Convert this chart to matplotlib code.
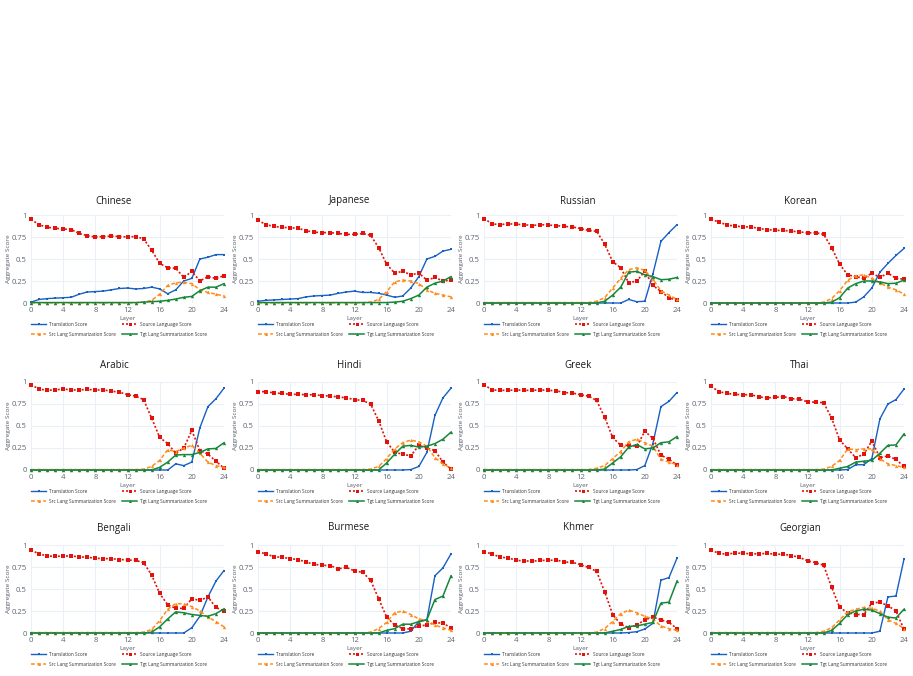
import matplotlib
matplotlib.use('Agg')
import matplotlib.pyplot as plt

# Data: aggregate scores per layer (0..24) for each language
layers = list(range(25))
languages = ['Chinese', 'Japanese', 'Russian', 'Korean',
             'Arabic', 'Hindi', 'Greek', 'Thai',
             'Bengali', 'Burmese', 'Khmer', 'Georgian']
series_names = ['Translation Score', 'Source Language Score',
                'Src Lang Summarization Score', 'Tgt Lang Summarization Score']

translation = {
    'Chinese':  [0.01, 0.04, 0.05, 0.055, 0.06, 0.065, 0.10, 0.125, 0.13, 0.135, 0.15, 0.165, 0.17, 0.16, 0.165, 0.18, 0.16, 0.105, 0.15, 0.25, 0.28, 0.50, 0.52, 0.55, 0.55],
    'Japanese': [0.02, 0.03, 0.035, 0.04, 0.045, 0.05, 0.07, 0.08, 0.085, 0.09, 0.11, 0.125, 0.135, 0.12, 0.12, 0.11, 0.09, 0.065, 0.08, 0.17, 0.30, 0.50, 0.53, 0.59, 0.61],
    'Russian':  [0, 0, 0, 0, 0, 0, 0, 0, 0, 0, 0, 0, 0, 0, 0, 0, 0, 0, 0.04, 0.015, 0.02, 0.33, 0.70, 0.80, 0.89],
    'Korean':   [0, 0, 0, 0, 0, 0, 0, 0, 0, 0, 0, 0, 0, 0, 0, 0, 0, 0, 0.01, 0.07, 0.17, 0.35, 0.45, 0.54, 0.62],
    'Arabic':   [0, 0, 0, 0, 0, 0, 0, 0, 0, 0, 0, 0, 0, 0, 0, 0, 0, 0, 0.07, 0.05, 0.09, 0.48, 0.72, 0.81, 0.93],
    'Hindi':    [0, 0, 0, 0, 0, 0, 0, 0, 0, 0, 0, 0, 0, 0, 0, 0, 0, 0, 0, 0.005, 0.04, 0.20, 0.62, 0.82, 0.93],
    'Greek':    [0, 0, 0, 0, 0, 0, 0, 0, 0, 0, 0, 0, 0, 0, 0, 0, 0, 0, 0, 0.005, 0.05, 0.30, 0.72, 0.78, 0.88],
    'Thai':     [0, 0, 0, 0, 0, 0, 0, 0, 0, 0, 0, 0, 0, 0, 0, 0, 0, 0.005, 0.06, 0.06, 0.13, 0.58, 0.75, 0.80, 0.92],
    'Bengali':  [0, 0, 0, 0, 0, 0, 0, 0, 0, 0, 0, 0, 0, 0, 0, 0, 0, 0, 0, 0, 0.06, 0.19, 0.41, 0.59, 0.71],
    'Burmese':  [0, 0, 0, 0, 0, 0, 0, 0, 0, 0, 0, 0, 0, 0, 0, 0, 0, 0, 0, 0.02, 0.13, 0.15, 0.65, 0.74, 0.90],
    'Khmer':    [0, 0, 0, 0, 0, 0, 0, 0, 0, 0, 0, 0, 0, 0, 0, 0, 0, 0, 0.005, 0.015, 0.045, 0.11, 0.60, 0.63, 0.85],
    'Georgian': [0, 0, 0, 0, 0, 0, 0, 0, 0, 0, 0, 0, 0, 0, 0, 0, 0, 0, 0, 0, 0, 0.02, 0.41, 0.42, 0.84],
}
source = {
    'Chinese':  [0.95, 0.89, 0.86, 0.85, 0.84, 0.835, 0.79, 0.765, 0.75, 0.755, 0.76, 0.755, 0.75, 0.755, 0.73, 0.60, 0.45, 0.40, 0.395, 0.29, 0.36, 0.25, 0.30, 0.28, 0.31],
    'Japanese': [0.94, 0.89, 0.87, 0.86, 0.855, 0.85, 0.82, 0.805, 0.80, 0.80, 0.79, 0.78, 0.78, 0.79, 0.77, 0.63, 0.44, 0.34, 0.36, 0.32, 0.34, 0.26, 0.29, 0.25, 0.26],
    'Russian':  [0.96, 0.90, 0.89, 0.90, 0.895, 0.89, 0.88, 0.89, 0.885, 0.88, 0.87, 0.865, 0.845, 0.825, 0.815, 0.67, 0.47, 0.40, 0.23, 0.25, 0.36, 0.20, 0.13, 0.06, 0.03],
    'Korean':   [0.95, 0.92, 0.885, 0.875, 0.865, 0.865, 0.845, 0.835, 0.825, 0.825, 0.815, 0.81, 0.795, 0.80, 0.78, 0.63, 0.44, 0.32, 0.30, 0.28, 0.34, 0.29, 0.34, 0.28, 0.27],
    'Arabic':   [0.97, 0.92, 0.905, 0.91, 0.92, 0.91, 0.91, 0.915, 0.91, 0.91, 0.895, 0.885, 0.855, 0.84, 0.80, 0.59, 0.37, 0.30, 0.19, 0.25, 0.45, 0.22, 0.18, 0.10, 0.02],
    'Hindi':    [0.89, 0.89, 0.875, 0.87, 0.86, 0.86, 0.855, 0.855, 0.845, 0.84, 0.83, 0.82, 0.80, 0.79, 0.75, 0.56, 0.32, 0.20, 0.18, 0.16, 0.28, 0.25, 0.22, 0.09, 0.01],
    'Greek':    [0.97, 0.91, 0.905, 0.905, 0.91, 0.905, 0.905, 0.91, 0.905, 0.90, 0.88, 0.875, 0.855, 0.84, 0.79, 0.60, 0.37, 0.28, 0.28, 0.27, 0.44, 0.36, 0.17, 0.12, 0.06],
    'Thai':     [0.95, 0.89, 0.87, 0.86, 0.855, 0.855, 0.83, 0.82, 0.825, 0.835, 0.81, 0.805, 0.775, 0.77, 0.765, 0.59, 0.34, 0.24, 0.14, 0.18, 0.33, 0.14, 0.16, 0.12, 0.04],
    'Bengali':  [0.94, 0.90, 0.875, 0.87, 0.875, 0.875, 0.865, 0.86, 0.85, 0.845, 0.845, 0.835, 0.83, 0.825, 0.80, 0.66, 0.45, 0.32, 0.28, 0.28, 0.39, 0.37, 0.41, 0.29, 0.25],
    'Burmese':  [0.92, 0.90, 0.865, 0.86, 0.845, 0.835, 0.805, 0.78, 0.77, 0.765, 0.73, 0.745, 0.705, 0.69, 0.60, 0.39, 0.18, 0.09, 0.05, 0.045, 0.08, 0.09, 0.12, 0.11, 0.06],
    'Khmer':    [0.92, 0.90, 0.86, 0.855, 0.825, 0.82, 0.815, 0.825, 0.825, 0.83, 0.805, 0.805, 0.775, 0.745, 0.70, 0.47, 0.21, 0.10, 0.06, 0.09, 0.15, 0.18, 0.15, 0.12, 0.05],
    'Georgian': [0.94, 0.905, 0.895, 0.91, 0.905, 0.90, 0.90, 0.905, 0.895, 0.895, 0.88, 0.86, 0.82, 0.80, 0.77, 0.52, 0.29, 0.23, 0.21, 0.21, 0.34, 0.35, 0.31, 0.25, 0.04],
}
src_summ = {
    'Chinese':  [0.002, 0.002, 0.002, 0.002, 0.002, 0.002, 0.002, 0.002, 0.002, 0.002, 0.002, 0.002, 0.002, 0.002, 0.01, 0.03, 0.10, 0.20, 0.23, 0.235, 0.22, 0.15, 0.12, 0.10, 0.08],
    'Japanese': [0.002, 0.002, 0.002, 0.002, 0.002, 0.002, 0.002, 0.002, 0.002, 0.002, 0.002, 0.002, 0.002, 0.002, 0.01, 0.04, 0.13, 0.24, 0.26, 0.25, 0.22, 0.15, 0.11, 0.09, 0.07],
    'Russian':  [0.005, 0.005, 0.005, 0.005, 0.005, 0.005, 0.005, 0.005, 0.005, 0.005, 0.005, 0.005, 0.005, 0.005, 0.02, 0.06, 0.17, 0.28, 0.38, 0.40, 0.37, 0.27, 0.14, 0.09, 0.04],
    'Korean':   [0, 0, 0, 0, 0, 0, 0, 0, 0, 0, 0, 0, 0, 0, 0.01, 0.05, 0.14, 0.26, 0.31, 0.32, 0.28, 0.23, 0.18, 0.15, 0.10],
    'Arabic':   [0.005, 0.005, 0.005, 0.005, 0.005, 0.005, 0.005, 0.005, 0.005, 0.005, 0.005, 0.005, 0.005, 0.005, 0.01, 0.04, 0.11, 0.23, 0.21, 0.25, 0.28, 0.19, 0.09, 0.05, 0.03],
    'Hindi':    [0.005, 0.005, 0.005, 0.005, 0.005, 0.005, 0.005, 0.005, 0.005, 0.005, 0.005, 0.005, 0.005, 0.005, 0.01, 0.04, 0.13, 0.24, 0.31, 0.34, 0.32, 0.27, 0.14, 0.07, 0.02],
    'Greek':    [0.005, 0.005, 0.005, 0.005, 0.005, 0.005, 0.005, 0.005, 0.005, 0.005, 0.005, 0.005, 0.005, 0.005, 0.02, 0.05, 0.13, 0.21, 0.32, 0.35, 0.31, 0.27, 0.12, 0.09, 0.06],
    'Thai':     [0.005, 0.005, 0.005, 0.005, 0.005, 0.005, 0.005, 0.005, 0.005, 0.005, 0.005, 0.005, 0.005, 0.005, 0.01, 0.04, 0.11, 0.24, 0.23, 0.24, 0.24, 0.13, 0.07, 0.05, 0.03],
    'Bengali':  [0.005, 0.005, 0.005, 0.005, 0.005, 0.005, 0.005, 0.005, 0.005, 0.005, 0.005, 0.005, 0.005, 0.005, 0.01, 0.04, 0.14, 0.27, 0.335, 0.33, 0.30, 0.25, 0.18, 0.13, 0.07],
    'Burmese':  [0, 0, 0, 0, 0, 0, 0, 0, 0, 0, 0, 0, 0, 0, 0.01, 0.05, 0.12, 0.23, 0.25, 0.21, 0.16, 0.14, 0.09, 0.06, 0.03],
    'Khmer':    [0, 0, 0, 0, 0, 0, 0, 0, 0, 0, 0, 0, 0, 0, 0.01, 0.05, 0.13, 0.22, 0.26, 0.23, 0.19, 0.16, 0.08, 0.05, 0.03],
    'Georgian': [0.005, 0.005, 0.005, 0.005, 0.005, 0.005, 0.005, 0.005, 0.005, 0.005, 0.005, 0.005, 0.005, 0.005, 0.02, 0.06, 0.15, 0.24, 0.27, 0.29, 0.28, 0.25, 0.15, 0.11, 0.05],
}
tgt_summ = {
    'Chinese':  [0.005, 0.005, 0.005, 0.005, 0.005, 0.005, 0.005, 0.005, 0.005, 0.005, 0.005, 0.005, 0.005, 0.005, 0.01, 0.015, 0.02, 0.03, 0.045, 0.065, 0.075, 0.14, 0.18, 0.18, 0.22],
    'Japanese': [0.005, 0.005, 0.005, 0.005, 0.005, 0.005, 0.005, 0.005, 0.005, 0.005, 0.005, 0.005, 0.005, 0.005, 0.005, 0.005, 0.005, 0.01, 0.02, 0.05, 0.09, 0.18, 0.225, 0.25, 0.30],
    'Russian':  [0, 0, 0, 0, 0, 0, 0, 0, 0, 0, 0, 0, 0, 0, 0, 0.02, 0.09, 0.18, 0.35, 0.36, 0.32, 0.30, 0.265, 0.27, 0.29],
    'Korean':   [0, 0, 0, 0, 0, 0, 0, 0, 0, 0, 0, 0, 0, 0, 0, 0.01, 0.06, 0.17, 0.22, 0.25, 0.25, 0.24, 0.22, 0.225, 0.26],
    'Arabic':   [0, 0, 0, 0, 0, 0, 0, 0, 0, 0, 0, 0, 0, 0, 0, 0, 0.03, 0.09, 0.17, 0.175, 0.175, 0.20, 0.24, 0.245, 0.31],
    'Hindi':    [0, 0, 0, 0, 0, 0, 0, 0, 0, 0, 0, 0, 0, 0, 0, 0, 0.08, 0.18, 0.27, 0.28, 0.26, 0.27, 0.30, 0.35, 0.43],
    'Greek':    [0, 0, 0, 0, 0, 0, 0, 0, 0, 0, 0, 0, 0, 0, 0, 0.01, 0.08, 0.15, 0.26, 0.29, 0.24, 0.25, 0.31, 0.32, 0.38],
    'Thai':     [0, 0, 0, 0, 0, 0, 0, 0, 0, 0, 0, 0, 0, 0, 0, 0, 0.02, 0.04, 0.09, 0.10, 0.11, 0.19, 0.28, 0.285, 0.41],
    'Bengali':  [0, 0, 0, 0, 0, 0, 0, 0, 0, 0, 0, 0, 0, 0, 0, 0.01, 0.07, 0.16, 0.24, 0.23, 0.21, 0.20, 0.19, 0.22, 0.275],
    'Burmese':  [0, 0, 0, 0, 0, 0, 0, 0, 0, 0, 0, 0, 0, 0, 0, 0, 0.03, 0.05, 0.10, 0.10, 0.13, 0.15, 0.38, 0.42, 0.65],
    'Khmer':    [0, 0, 0, 0, 0, 0, 0, 0, 0, 0, 0, 0, 0, 0, 0, 0, 0.02, 0.04, 0.075, 0.08, 0.10, 0.12, 0.34, 0.35, 0.59],
    'Georgian': [0, 0, 0, 0, 0, 0, 0, 0, 0, 0, 0, 0, 0, 0, 0, 0.03, 0.11, 0.21, 0.25, 0.27, 0.26, 0.22, 0.18, 0.17, 0.27],
}

xticks = [0, 4, 8, 12, 16, 20, 24]
yticks = [0, 0.25, 0.5, 0.75, 1]
ytick_labels = ['0', '0.25', '0.5', '0.75', '1']

# Styles
plt.rcParams['font.family'] = ['Open Sans', 'DejaVu Sans']
styles = [
    dict(color='#1760c4', linestyle='-', marker='s', markersize=2.0, linewidth=1.0),
    dict(color='#e3120b', linestyle=(0, (1.2, 1.2)), marker='s', markersize=2.4, linewidth=1.2),
    dict(color='#ff8c1a', linestyle=(0, (2.5, 1.5)), marker='^', markersize=2.4, linewidth=1.1),
    dict(color='#16873a', linestyle='-', marker='^', markersize=2.4, linewidth=1.1),
]
grid_color = '#ebf0f8'
tick_color = '#5f6673'

W, H = 913, 676
fig = plt.figure(figsize=(W / 100, H / 100), dpi=100)

col_left = [31, 258, 484, 711]
row_top = [215, 382, 545]
pw, ph = 193, 88
title_x = [114, 349, 578, 800]
title_y = [201, 365, 528]

for i, lang in enumerate(languages):
    r, c = divmod(i, 4)
    x0, y0 = col_left[c], row_top[r]
    ax = fig.add_axes([x0 / W, 1 - (y0 + ph) / H, pw / W, ph / H])
    data = [translation[lang], source[lang], src_summ[lang], tgt_summ[lang]]
    lines = []
    for vals, name, st in zip(data, series_names, styles):
        ln, = ax.plot(layers, vals, label=name, clip_on=False, zorder=3,
                      markeredgewidth=0, **st)
        lines.append(ln)

    ax.set_xlim(0, 24)
    ax.set_ylim(0, 1)
    ax.set_xticks(xticks)
    ax.set_yticks(yticks)
    ax.set_yticklabels(ytick_labels)
    ax.grid(True, color=grid_color, linewidth=0.8)
    ax.set_axisbelow(True)
    for sp in ax.spines.values():
        sp.set_visible(False)
    ax.tick_params(length=0, labelsize=5.6, labelcolor=tick_color, pad=3)
    ax.set_xlabel('Layer', fontsize=4.6, color='#555b66', labelpad=1.5)
    ax.set_ylabel('Aggregate Score', fontsize=4.6, color='#555b66')
    ax.yaxis.set_label_coords(-0.105, 0.5)

    fig.text(title_x[c] / W, 1 - title_y[r] / H, lang, ha='center', va='center',
             fontsize=7, color='#1a1a1a')

    order = [0, 2, 1, 3]
    ax.legend([lines[k] for k in order], [series_names[k] for k in order],
              ncol=2, loc='upper left', bbox_to_anchor=(0.0, -0.215),
              frameon=False, fontsize=3.4, handlelength=3.2, handletextpad=0.7,
              columnspacing=1.2, labelspacing=1.0, borderpad=0, borderaxespad=0,
              labelcolor='#333333', markerscale=0.9)

fig.savefig('out.png', dpi=100)
